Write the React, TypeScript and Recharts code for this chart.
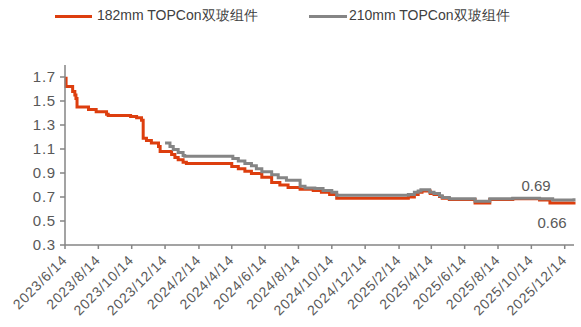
import { LineChart, Line, XAxis, YAxis } from "recharts";

const dates182 = [
  "2023/6/14", "2023/6/16", "2023/6/28", "2023/7/2", "2023/7/4", "2023/7/6",
  "2023/7/27", "2023/8/10", "2023/8/29", "2023/9/1", "2023/10/12", "2023/10/23",
  "2023/11/1", "2023/11/4", "2023/11/10", "2023/11/19", "2023/12/2", "2023/12/5",
  "2023/12/26", "2024/1/1", "2024/1/7", "2024/1/16", "2024/1/22", "2024/4/14",
  "2024/4/26", "2024/5/8", "2024/5/20", "2024/6/8", "2024/6/26", "2024/7/11",
  "2024/7/26", "2024/8/17", "2024/9/10", "2024/9/25", "2024/10/10", "2024/10/23",
  "2025/3/3", "2025/3/14", "2025/3/21", "2025/3/28", "2025/4/12", "2025/4/19",
  "2025/4/29", "2025/5/4", "2025/5/17", "2025/7/3", "2025/7/30", "2025/9/10",
  "2025/10/29", "2025/11/17", "2025/12/31",
];
const values182 = [
  1.69, 1.62, 1.58, 1.55, 1.52, 1.45,
  1.43, 1.41, 1.39, 1.38, 1.37, 1.36,
  1.34, 1.19, 1.17, 1.15, 1.12, 1.08,
  1.055, 1.03, 1.01, 0.99, 0.98, 0.955,
  0.935, 0.915, 0.895, 0.865, 0.82, 0.8,
  0.78, 0.765, 0.755, 0.74, 0.72, 0.69,
  0.7, 0.72, 0.74, 0.75, 0.73, 0.72,
  0.705, 0.69, 0.68, 0.65, 0.68, 0.685,
  0.675, 0.65, 0.66,
];

const dates210 = [
  "2023/12/14", "2023/12/23", "2023/12/29", "2024/1/7", "2024/1/16", "2024/1/19",
  "2024/4/16", "2024/4/26", "2024/5/8", "2024/5/20", "2024/5/29", "2024/6/8",
  "2024/6/26", "2024/7/8", "2024/7/23", "2024/8/17", "2024/8/26", "2024/9/13",
  "2024/9/28", "2024/10/14", "2024/10/23", "2025/3/3", "2025/3/14", "2025/3/21",
  "2025/3/26", "2025/4/11", "2025/4/19", "2025/4/29", "2025/5/4", "2025/5/17",
  "2025/7/3", "2025/7/30", "2025/9/10", "2025/10/29", "2025/11/22", "2025/12/31",
];
const values210 = [
  1.15, 1.12, 1.095, 1.07, 1.045, 1.04,
  1.02, 1.0, 0.98, 0.96, 0.935, 0.91,
  0.885, 0.86, 0.84, 0.79, 0.775, 0.77,
  0.755, 0.74, 0.715, 0.72, 0.74, 0.75,
  0.76, 0.74, 0.73, 0.71, 0.695, 0.685,
  0.665, 0.685, 0.69, 0.685, 0.675, 0.69,
];

const tickLabels = [
  "2023/6/14", "2023/8/14", "2023/10/14", "2023/12/14", "2024/2/14", "2024/4/14",
  "2024/6/14", "2024/8/14", "2024/10/14", "2024/12/14", "2025/2/14", "2025/4/14",
  "2025/6/14", "2025/8/14", "2025/10/14", "2025/12/14",
];
const yTicks = [0.3, 0.5, 0.7, 0.9, 1.1, 1.3, 1.5, 1.7];

const toTs = (s: string) => {
  const [y, m, d] = s.split("/").map(Number);
  return Date.UTC(y, m - 1, d);
};
const fmt = (t: number) => {
  const d = new Date(t);
  return `${d.getUTCFullYear()}/${d.getUTCMonth() + 1}/${d.getUTCDate()}`;
};

const data182 = dates182.map((d, i) => ({ t: toTs(d), v: values182[i] }));
const data210 = dates210.map((d, i) => ({ t: toTs(d), v: values210[i] }));

const RED = "#DD3E0E";
const GRAY = "#858585";
const TEXT = "#595959";
const FONT = "Arial, 'Liberation Sans', sans-serif";

const XTick = (props: any) => {
  const { x, y, payload } = props;
  const ax = x + 3;
  const ay = y + 10;
  return (
    <text
      x={ax}
      y={ay}
      transform={`rotate(-45, ${ax}, ${ay})`}
      textAnchor="end"
      fill={TEXT}
      fontSize={14}
      letterSpacing={0.8}
      fontFamily={FONT}
    >
      {fmt(payload.value)}
    </text>
  );
};

const endLabel = (text: string, dx: number, dy: number, last: number) => (p: any) => {
  if (p.index !== last) return <g key={p.index} />;
  return (
    <text
      key={p.index}
      x={p.cx + dx}
      y={p.cy + dy}
      textAnchor="middle"
      fill={TEXT}
      fontSize={15}
      fontFamily={FONT}
    >
      {text}
    </text>
  );
};

const App = () => {
  return (
    <div style={{ position: "absolute", left: 0, top: 0, width: 581, height: 327, background: "#fff", fontFamily: FONT }}>
      <div style={{ position: "absolute", left: 55, top: 7, display: "flex", alignItems: "center", fontSize: 14, color: "#404040" }}>
        <span style={{ width: 37, height: 3, background: RED, marginRight: 5 }} />
        <span>182mm TOPCon双玻组件</span>
      </div>
      <div style={{ position: "absolute", left: 309, top: 7, display: "flex", alignItems: "center", fontSize: 14, color: "#404040" }}>
        <span style={{ width: 38, height: 3, background: GRAY, marginRight: 2 }} />
        <span>210mm TOPCon双玻组件</span>
      </div>
      <LineChart width={581} height={327} margin={{ top: 65, right: 7, bottom: 0, left: 20 }}>
        <XAxis
          type="number"
          dataKey="t"
          domain={[toTs("2023/6/14"), toTs("2025/12/31")]}
          ticks={tickLabels.map(toTs)}
          tick={<XTick />}
          height={82}
          stroke={GRAY}
          strokeWidth={1.5}
          tickSize={4}
          interval={0}
        />
        <YAxis
          domain={[0.3, 1.8]}
          ticks={yTicks}
          tickFormatter={(v: number) => v.toFixed(1)}
          width={45}
          stroke={GRAY}
          strokeWidth={1.5}
          tickSize={5}
          tickMargin={4}
          tick={{ fill: TEXT, fontSize: 15, fontFamily: FONT, letterSpacing: 0.8 }}
          allowDataOverflow
        />
        <Line
          data={data182}
          dataKey="v"
          type="stepAfter"
          stroke={RED}
          strokeWidth={3}
          dot={endLabel("0.66", -22, 26, data182.length - 1)}
          activeDot={false}
          isAnimationActive={false}
        />
        <Line
          data={data210}
          dataKey="v"
          type="stepAfter"
          stroke={GRAY}
          strokeWidth={3}
          dot={endLabel("0.69", -38, -7, data210.length - 1)}
          activeDot={false}
          isAnimationActive={false}
        />
      </LineChart>
    </div>
  );
};

export default App;
